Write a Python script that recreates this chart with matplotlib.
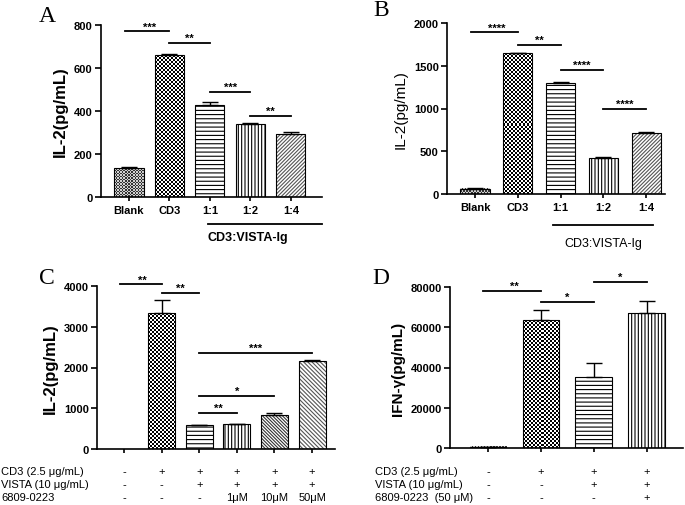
import numpy as np
import matplotlib
matplotlib.use('Agg')
import matplotlib.pyplot as plt
from matplotlib.colors import ListedColormap

plt.rcParams['font.family'] = ['Liberation Sans', 'DejaVu Sans']
plt.rcParams['hatch.linewidth'] = 0.8

# ---- data ----
a_labels = ['Blank', 'CD3', '1:1', '1:2', '1:4']
a_vals = [133, 660, 428, 340, 292]
a_err = [5, 6, 15, 3, 10]
a_sig = [(0, 1, 770, '***'), (1, 2, 715, '**'), (2, 3, 488, '***'), (3, 4, 377, '**')]

b_labels = ['Blank', 'CD3', '1:1', '1:2', '1:4']
b_vals = [60, 1645, 1300, 425, 715]
b_err = [8, 5, 15, 8, 8]
b_sig = [(0, 1, 1890, '****'), (1, 2, 1745, '**'), (2, 3, 1450, '****'), (3, 4, 995, '****')]

c_vals = [0, 3330, 590, 620, 840, 2160]
c_err = [0, 320, 10, 5, 40, 20]
c_sig = [(0, 1, 4040, '**'), (1, 2, 3840, '**'), (2, 5, 2350, '***'),
         (2, 4, 1300, '*'), (2, 3, 880, '**')]
c_rows = ['CD3 (2.5 \u03bcg/mL)', 'VISTA (10 \u03bcg/mL)', '6809-0223']
c_table = [['-', '+', '+', '+', '+', '+'],
           ['-', '-', '+', '+', '+', '+'],
           ['-', '-', '-', '1\u03bcM', '10\u03bcM', '50\u03bcM']]

d_vals = [500, 63500, 35500, 67000]
d_err = [200, 5000, 6500, 6000]
d_sig = [(0, 1, 78000, '**'), (1, 2, 72500, '*'), (2, 3, 82500, '*')]
d_rows = ['CD3 (2.5 \u03bcg/mL)', 'VISTA (10 \u03bcg/mL)', '6809-0223  (50 \u03bcM)']
d_table = [['-', '+', '+', '+'],
           ['-', '-', '+', '+'],
           ['-', '-', '-', '+']]

W, H = 685, 506
fig = plt.figure(figsize=(W / 100, H / 100), dpi=100)


def make_ax(l, r, b, t):
    # pixel box -> figure fraction
    return fig.add_axes([l / W, 1 - b / H, (r - l) / W, (b - t) / H])


def checker(ax, x, w, h, cell, c1, c2):
    x0, x1 = ax.get_xlim()
    y0, y1 = ax.get_ylim()
    ppx = ax.bbox.width / (x1 - x0)
    ppy = ax.bbox.height / (y1 - y0)
    nx = max(1, int(round(w * ppx / cell)))
    ny = max(1, int(round(h * ppy / cell)))
    grid = np.add.outer(np.arange(ny), np.arange(nx)) % 2
    ax.imshow(grid, cmap=ListedColormap([c1, c2]), extent=(x - w / 2, x + w / 2, 0, h),
              aspect='auto', interpolation='nearest', zorder=2)


def draw_panel(ax, vals, err, styles, width, xlim, ylim, yticks):
    ax.set_xlim(*xlim)
    ax.set_ylim(*ylim)
    x = np.arange(len(vals))
    for i, (v, s) in enumerate(zip(vals, styles)):
        if s is None:
            continue
        if s == 'checker':
            checker(ax, i, width, v, 2, 'white', 'black')
        elif s == 'fine':
            checker(ax, i, width, v, 1.5, '#d0d0d0', '#333333')
        else:
            hatch, col = s
            ax.bar(i, v, width, color='white', edgecolor=col, hatch=hatch, linewidth=0, zorder=2)
        ax.bar(i, v, width, facecolor='none', edgecolor='black', linewidth=0.8, zorder=3)
    keep = [i for i in x if err[i] > 0]
    ax.errorbar(x[keep], np.array(vals)[keep], yerr=[np.zeros(len(keep)), np.array(err)[keep]],
                fmt='none', ecolor='black', elinewidth=1, capsize=width * 8, capthick=1, zorder=4)
    ax.set_xlim(*xlim)
    ax.set_ylim(*ylim)
    ax.set_yticks(yticks)
    ax.set_xticks(x)
    for sp in ['top', 'right']:
        ax.spines[sp].set_visible(False)
    for sp in ['left', 'bottom']:
        ax.spines[sp].set_linewidth(1.2)
    ax.tick_params(axis='y', length=4, width=1.2, labelsize=8, pad=2)
    ax.tick_params(axis='x', length=3, width=1.2, labelsize=8, pad=3)


def draw_sig(ax, sig, fs=8):
    for i, j, y, s in sig:
        ax.plot([i - 0.1 if i == 0 else i, j], [y, y], color='black', lw=1.3, clip_on=False)
        ax.text((i + j) / 2, y, s, ha='center', va='bottom', fontsize=fs,
                fontweight='bold', clip_on=False)


# ---- A ----
axA = make_ax(101, 322, 198, 26)
draw_panel(axA, a_vals, a_err, ['fine', 'checker', ('----', 'black'), ('|||||', 'black'), ('/////////', '#555555')],
           0.72, (-0.69, 4.77), (0, 800), [0, 200, 400, 600, 800])
axA.set_xticklabels(a_labels, fontweight='bold')
for t in axA.get_yticklabels():
    t.set_fontweight('bold')
axA.set_ylabel('IL-2(pg/mL)', fontsize=12, fontweight='bold', labelpad=4)
draw_sig(axA, a_sig)
axA.plot([1.95, 4.77], [-0.157, -0.157], transform=axA.get_xaxis_transform(), color='black', lw=1.3, clip_on=False)
axA.text(1.95, -0.20, 'CD3:VISTA-Ig', transform=axA.get_xaxis_transform(), ha='left', va='top',
         fontsize=9, fontweight='bold')

# ---- B ----
axB = make_ax(447, 665, 195, 24)
draw_panel(axB, b_vals, b_err, ['fine', 'checker', ('----', 'black'), ('|||||', 'black'), ('/////////', '#555555')],
           0.68, (-0.655, 4.44), (0, 2000), [0, 500, 1000, 1500, 2000])
axB.set_xticklabels(b_labels, fontweight='bold')
for t in axB.get_yticklabels():
    t.set_fontweight('bold')
axB.set_ylabel('IL-2(pg/mL)', fontsize=11, labelpad=4)
draw_sig(axB, b_sig)
axB.plot([1.82, 4.16], [-0.181, -0.181], transform=axB.get_xaxis_transform(), color='black', lw=1.3, clip_on=False)
axB.text(3.0, -0.25, 'CD3:VISTA-Ig', transform=axB.get_xaxis_transform(), ha='center', va='top',
         fontsize=9)

# ---- C ----
axC = make_ax(97, 335, 450, 287)
draw_panel(axC, c_vals, c_err, [None, 'checker', ('----', 'black'), ('|||||', 'black'),
                                ('\\' * 10, '#333333'), ('\\' * 8, '#555555')],
           0.72, (-0.72, 5.61), (0, 4000), [0, 1000, 2000, 3000, 4000])
axC.set_xticklabels([''] * len(c_vals))
for t in axC.get_yticklabels():
    t.set_fontweight('bold')
axC.set_ylabel('IL-2(pg/mL)', fontsize=12, fontweight='bold', labelpad=4)
draw_sig(axC, c_sig)

# ---- D ----
axD = make_ax(450, 683, 449, 288)
draw_panel(axD, d_vals, d_err, ['fine', 'checker', ('----', 'black'), ('|||||', 'black')],
           0.69, (-0.72, 3.69), (0, 80000), [0, 20000, 40000, 60000, 80000])
axD.set_xticklabels([''] * len(d_vals))
for t in axD.get_yticklabels():
    t.set_fontweight('bold')
axD.set_ylabel('IFN-\u03b3(pg/mL)', fontsize=11, fontweight='bold', labelpad=4)
draw_sig(axD, d_sig)

# ---- condition tables ----
row_y = [472, 485, 498]
for ax, rows, table, lx in [(axC, c_rows, c_table, 1), (axD, d_rows, d_table, 375)]:
    for r, (lab, cells) in enumerate(zip(rows, table)):
        fig.text(lx / W, 1 - row_y[r] / H, lab, ha='left', va='center', fontsize=8)
        for k, c in enumerate(cells):
            px = ax.transData.transform((k, 0))[0]
            fig.text(px / W, 1 - row_y[r] / H, c, ha='center', va='center', fontsize=8)

# ---- panel letters ----
for s, px, py in [('A', 47, 17), ('B', 381, 11), ('C', 47, 279), ('D', 381, 279)]:
    fig.text(px / W, 1 - py / H, s, ha='center', va='center', fontsize=17,
             family='Liberation Serif')

fig.savefig('out.png', dpi=100)
